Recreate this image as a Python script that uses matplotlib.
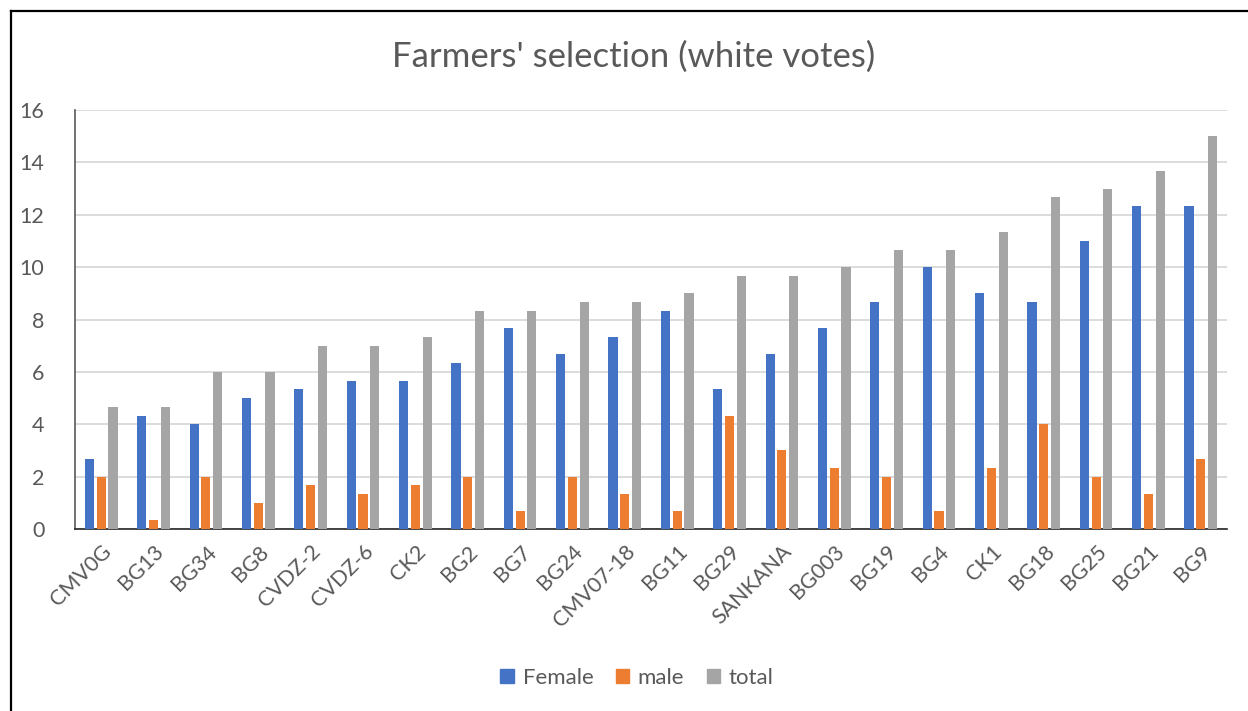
import matplotlib
matplotlib.use("Agg")
import matplotlib.pyplot as plt
import numpy as np
from matplotlib.lines import Line2D

categories = ["CMV0G", "BG13", "BG34", "BG8", "CVDZ-2", "CVDZ-6", "CK2", "BG2", "BG7", "BG24",
              "CMV07-18", "BG11", "BG29", "SANKANA", "BG003", "BG19", "BG4", "CK1", "BG18",
              "BG25", "BG21", "BG9"]
female = [2.67, 4.33, 4.0, 5.0, 5.33, 5.67, 5.67, 6.33, 7.67, 6.67, 7.33, 8.33, 5.33, 6.67,
          7.67, 8.67, 10.0, 9.0, 8.67, 11.0, 12.33, 12.33]
male = [2.0, 0.33, 2.0, 1.0, 1.67, 1.33, 1.67, 2.0, 0.67, 2.0, 1.33, 0.67, 4.33, 3.0,
        2.33, 2.0, 0.67, 2.33, 4.0, 2.0, 1.33, 2.67]
total = [4.67, 4.67, 6.0, 6.0, 7.0, 7.0, 7.33, 8.33, 8.33, 8.67, 8.67, 9.0, 9.67, 9.67,
         10.0, 10.67, 10.67, 11.33, 12.67, 13.0, 13.67, 15.0]
series_names = ["Female", "male", "total"]
yticks = [0, 2, 4, 6, 8, 10, 12, 14, 16]

colors = ["#4472C4", "#ED7D31", "#A5A5A5"]
plt.rcParams['font.family'] = ['Lato', 'DejaVu Sans']

W, H = 1248, 711
fig = plt.figure(figsize=(W / 100, H / 100), dpi=100)
ax = fig.add_axes([75 / W, 1 - 529 / H, (1227 - 75) / W, (529 - 110) / H])

x = np.arange(len(categories))
bw = 0.175
step = 0.225
for i, (vals, name) in enumerate(zip([female, male, total], series_names)):
    ax.bar(x + (i - 1) * step, vals, width=bw, color=colors[i], label=name, zorder=3)

ax.set_xlim(-0.5, len(categories) - 0.5)
ax.set_ylim(0, 16)
ax.set_yticks(yticks)
ax.yaxis.grid(True, color="#D9D9D9", linewidth=1.3, zorder=0)
ax.set_xticks(x)
ax.set_xticklabels(categories, rotation=45, ha="right", rotation_mode="anchor")
ax.tick_params(axis="both", length=0, labelsize=15.5, colors="#595959", pad=9)
ax.tick_params(axis="y", pad=22)
for s in ["top", "right"]:
    ax.spines[s].set_visible(False)
ax.spines["left"].set_color("#595959")
ax.spines["left"].set_linewidth(1.2)
ax.spines["bottom"].set_color("#262626")
ax.spines["bottom"].set_linewidth(1.2)

fig.text(634 / W, 1 - 57 / H, "Farmers' selection (white votes)", ha="center", va="center",
         fontsize=25, color="#595959")

handles = [plt.Rectangle((0, 0), 1, 1, color=c) for c in colors]
fig.legend(handles, series_names, loc="center", bbox_to_anchor=(637 / W, 1 - 678 / H),
           ncol=3, frameon=False, fontsize=16, handlelength=0.6, handleheight=0.6,
           columnspacing=1.0, handletextpad=0.4, labelcolor="#595959")

# outer frame lines (left and top)
fig.add_artist(Line2D([11 / W, 11 / W], [0, 1 - 11 / H], transform=fig.transFigure,
                      color="black", linewidth=1.6))
fig.add_artist(Line2D([11 / W, 1], [1 - 11 / H, 1 - 11 / H], transform=fig.transFigure,
                      color="black", linewidth=1.6))

fig.savefig("out.png", dpi=100)
